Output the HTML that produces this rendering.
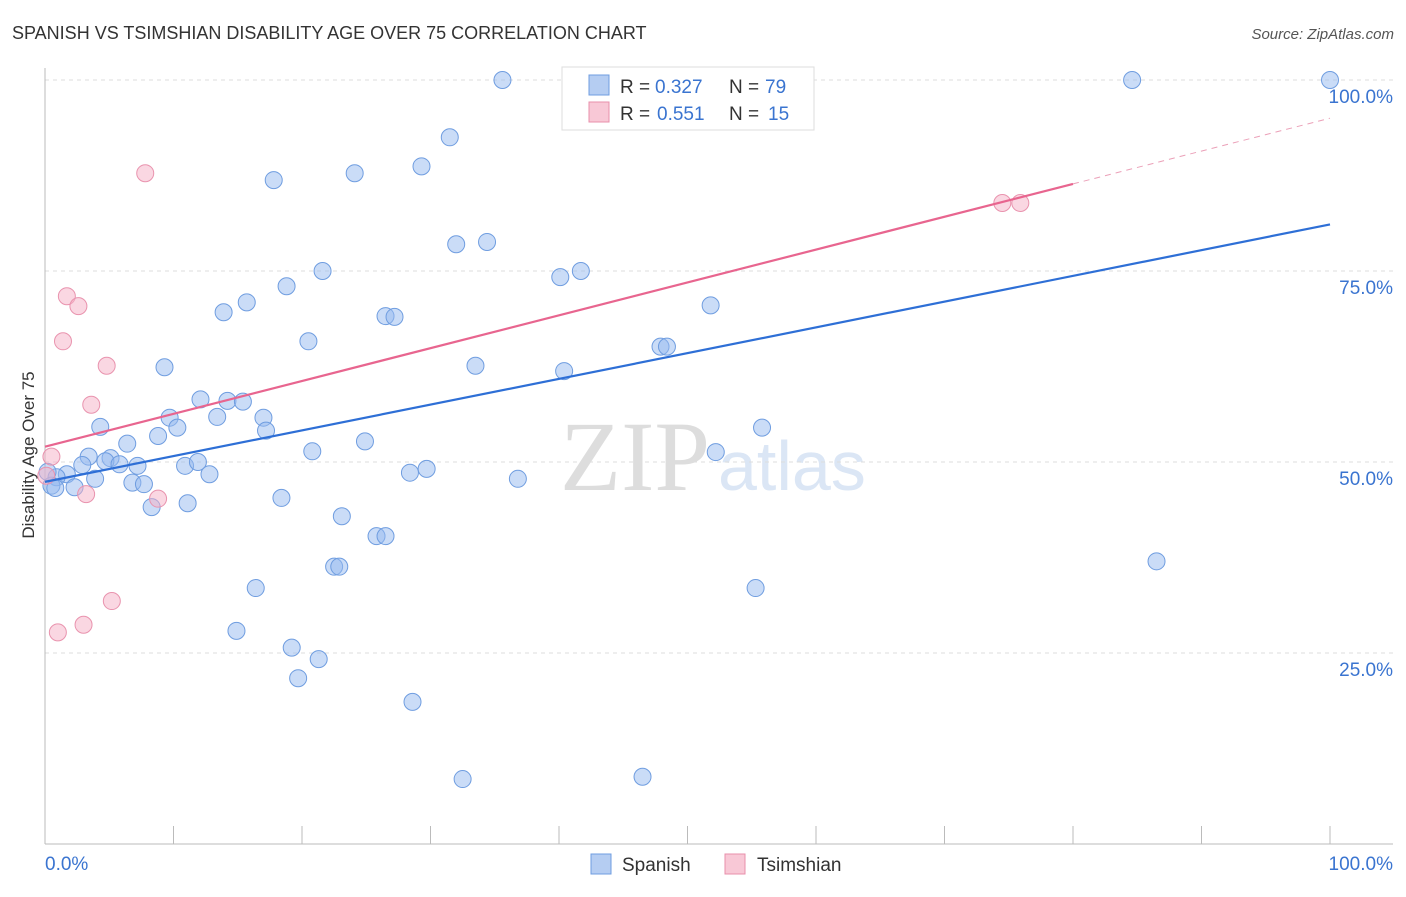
<!DOCTYPE html>
<html><head><meta charset="utf-8"><style>
body{margin:0;background:#fff;font-family:"Liberation Sans",sans-serif}
svg text{font-family:"Liberation Sans",sans-serif}
</style></head><body>
<svg id="c" width="1406" height="892" xmlns="http://www.w3.org/2000/svg">
<text x="12" y="39" font-size="18" fill="#333">SPANISH VS TSIMSHIAN DISABILITY AGE OVER 75 CORRELATION CHART</text>
<text x="1394" y="39" font-size="15" fill="#555" text-anchor="end" font-style="italic">Source: ZipAtlas.com</text>
<text x="560" y="490" font-size="100" fill="#ddd" style="font-family:'Liberation Serif',serif">ZIP</text>
<text x="718" y="490" font-size="70" fill="#dbe6f5">atlas</text>
<g id="grid"></g><g id="axes"></g><g id="pts"></g><g id="trend"></g>
<text transform="translate(34,455) rotate(-90)" font-size="17" fill="#333" text-anchor="middle">Disability Age Over 75</text>
<g>
<rect x="562" y="67" width="252" height="63" fill="#fff" stroke="#ddd"/>
<rect x="589" y="75" width="20" height="20" fill="#b5cdf2" stroke="#6f9de0"/>
<text x="620" y="93" font-size="19" fill="#333">R =</text>
<text x="655" y="93" font-size="19" fill="#3a74d0">0.327</text>
<text x="729" y="93" font-size="19" fill="#333">N =</text>
<text x="765" y="93" font-size="19" fill="#3a74d0">79</text>
<rect x="589" y="102" width="20" height="20" fill="#f8c8d6" stroke="#e88fab"/>
<text x="620" y="120" font-size="19" fill="#333">R =</text>
<text x="657" y="120" font-size="19" fill="#3a74d0">0.551</text>
<text x="729" y="120" font-size="19" fill="#333">N =</text>
<text x="768" y="120" font-size="19" fill="#3a74d0">15</text>
</g>
<g>
<rect x="591" y="854" width="20" height="20" fill="#b5cdf2" stroke="#6f9de0"/>
<text x="622" y="871" font-size="19" fill="#333">Spanish</text>
<rect x="725" y="854" width="20" height="20" fill="#f8c8d6" stroke="#e88fab"/>
<text x="757" y="871" font-size="19" fill="#333">Tsimshian</text>
</g>
</svg>
<script>
const yTicks=[100,75,50,25];
const yTickLabels=["100.0%","75.0%","50.0%","25.0%"];
const spanishX=[35.6,84.6,100,43.0,31.5,29.3,24.1,17.8,34.4,32.0,21.6,41.7,40.1,18.8,15.7,13.9,51.8,26.5,27.2,20.5,47.9,48.4,33.5,9.3,40.4,12.1,14.2,15.4,9.7,17.0,13.4,10.3,4.3,17.2,8.8,55.8,24.9,6.4,20.8,3.4,5.1,4.7,5.8,52.2,7.2,10.9,11.9,12.8,28.4,29.7,2.9,1.7,0.9,3.9,36.8,0.5,2.3,6.8,7.7,18.4,11.1,8.3,23.1,25.8,26.5,86.5,22.5,22.9,16.4,55.3,14.9,19.2,21.3,19.7,28.6,32.5,46.5,0.2,0.8];
const spanishY=[100,100,100,99.6,92.5,88.7,87.8,86.9,78.8,78.5,75,75,74.2,73,70.9,69.6,70.5,69.1,69,65.8,65.1,65.1,62.6,62.4,61.9,58.2,58,57.9,55.8,55.8,55.9,54.5,54.6,54.1,53.4,54.5,52.7,52.4,51.4,50.7,50.5,50.1,49.7,51.3,49.5,49.5,50,48.4,48.6,49.1,49.6,48.4,48,47.8,47.8,46.9,46.7,47.3,47.1,45.3,44.6,44.1,42.9,40.3,40.3,37,36.3,36.3,33.5,33.5,27.9,25.7,24.2,21.7,18.6,8.5,8.8,48.7,46.6];
const tsimX=[7.8,1.7,2.6,1.4,4.8,3.6,0.5,0.1,3.2,8.8,5.2,3.0,1.0,74.5,75.9];
const tsimY=[87.8,71.7,70.4,65.8,62.6,57.5,50.7,48.2,45.8,45.2,31.8,28.7,27.7,83.9,83.9];
const blueTrend=[47.4,81.1];
const pinkTrend=[52.0,95.0];
const pinkSolidEnd=80;
const NS="http://www.w3.org/2000/svg";
const X=v=>45+v*12.85, Y=v=>844-v*7.64;
function mk(t,a,p){const e=document.createElementNS(NS,t);for(const k in a)e.setAttribute(k,a[k]);document.getElementById(p).appendChild(e);return e;}
yTicks.forEach((t,i)=>{
 let l=mk('line',{x1:45,x2:1393,y1:Y(t),y2:Y(t),stroke:'#ddd','stroke-dasharray':'4,4'},'grid');
 
 
 let tx=mk('text',{x:1393,y:Y(t)+23,'font-size':19,fill:'#3a74d0','text-anchor':'end'},'grid');
 tx.textContent=yTickLabels[i];
 
 
});
let ax=mk('line',{x1:45,x2:45,y1:68,y2:844,stroke:'#bbb'},'axes');


let bx=mk('line',{x1:45,x2:1393,y1:844,y2:844,stroke:'#bbb'},'axes');


for(let i=1;i<=10;i++){let t=mk('line',{x1:X(i*10),x2:X(i*10),y1:826,y2:844,stroke:'#bbb'},'axes');
 
 }
[["0.0%",45,'start'],["100.0%",1393,'end']].forEach(a=>{let t=mk('text',{x:a[1],y:870,'font-size':19,fill:'#3a74d0','text-anchor':a[2]},'axes');t.textContent=a[0];
 
 });
spanishX.forEach((x,i)=>{let c=mk('circle',{cx:X(x),cy:Y(spanishY[i]),r:8.5,fill:'rgba(150,185,240,0.5)',stroke:'#6f9de0','stroke-width':1},'pts');
 
 });
tsimX.forEach((x,i)=>{let c=mk('circle',{cx:X(x),cy:Y(tsimY[i]),r:8.5,fill:'rgba(245,175,198,0.5)',stroke:'#e993ae','stroke-width':1},'pts');
 
 });
let b=mk('line',{x1:X(0),y1:Y(blueTrend[0]),x2:X(100),y2:Y(blueTrend[1]),stroke:'#2e6fd6','stroke-width':2.2},'trend');


const pm=pinkTrend[0]+(pinkTrend[1]-pinkTrend[0])*pinkSolidEnd/100;
let p=mk('line',{x1:X(0),y1:Y(pinkTrend[0]),x2:X(pinkSolidEnd),y2:Y(pm),stroke:'#e8658f','stroke-width':2.2},'trend');


let pd=mk('line',{x1:X(pinkSolidEnd),y1:Y(pm),x2:X(100),y2:Y(pinkTrend[1]),stroke:'#eba0b8','stroke-width':1,'stroke-dasharray':'6,5'},'trend');


</script>
</body></html>
